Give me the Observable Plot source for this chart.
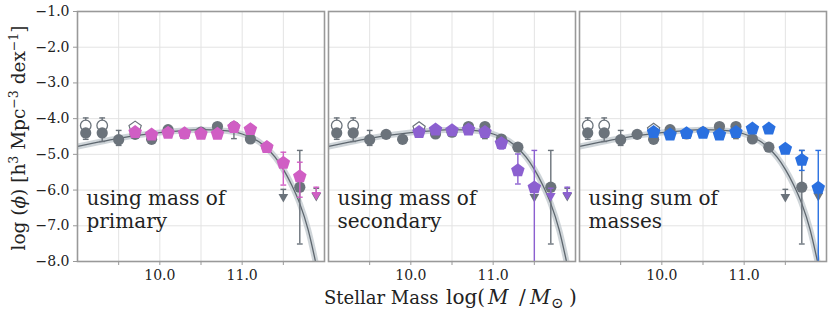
<!DOCTYPE html>
<html><head><meta charset="utf-8">
<script src="https://cdn.jsdelivr.net/npm/d3@7"></script>
<script src="https://cdn.jsdelivr.net/npm/@observablehq/plot@0.6"></script>
<style>
body{margin:0;background:#fff;}
#chart{width:830px;height:315px;}
svg text{font-family:"DejaVu Serif",serif;}
</style></head><body><div id="chart"></div>
<script>
// ---------- data ----------
const panelNames = ["using mass of\nprimary", "using mass of\nsecondary", "using sum of\nmasses"];
const massBins = [9.1, 9.3, 9.5, 9.7, 9.9, 10.1, 10.3, 10.5, 10.7, 10.9, 11.1, 11.3, 11.5, 11.7, 11.9];
const yTicks = [-8, -7, -6, -5, -4, -3, -2, -1];
const xTicks = [9.5, 10, 10.5, 11, 11.5];

// gray comparison sample (same in each panel)
const grayPhi   = [-4.40, -4.40, -4.59, -4.44, -4.58, -4.31, -4.43, -4.38, -4.22, -4.22, -4.57, -4.80, null, -5.92, null];
const grayLo    = [-4.58, -4.64, -4.75, -4.55, -4.68, -4.40, -4.50, -4.45, -4.30, -4.56, -4.65, -4.90, null, -7.51, null];
const grayHi    = [-4.25, -4.25, -4.33, -4.35, -4.50, -4.24, -4.37, -4.31, -4.15, -4.15, -4.50, -4.72, null, -4.89, null];
const grayUpper = [null, null, null, null, null, null, null, null, null, null, null, null, -5.98, null, -5.95];
// gray open circles (lowest bins)
const grayOpenPhi = [-4.19, -4.19, null, null, null, null, null, null, null, null, null, null, null, null, null];
const grayOpenHi  = [-3.98, -3.98, null, null, null, null, null, null, null, null, null, null, null, null, null];

// panel 1: mass of primary (pink)
const pinkPhi   = [null, null, null, -4.38, -4.45, -4.40, -4.41, -4.43, -4.43, -4.24, -4.30, -4.80, -5.24, -5.62, null];
const pinkLo    = [null, null, null, -4.43, -4.50, -4.45, -4.46, -4.55, -4.50, -4.30, -4.35, -4.90, -5.86, -6.20, null];
const pinkHi    = [null, null, null, -4.33, -4.40, -4.35, -4.36, -4.38, -4.38, -4.18, -4.25, -4.68, -4.94, -5.22, null];
const pinkUpper = [null, null, null, null, null, null, null, null, null, null, null, null, null, null, -5.92];

// panel 2: mass of secondary (purple)
const purplePhi   = [null, null, null, null, null, -4.38, -4.31, -4.33, -4.31, -4.38, -4.69, -5.45, -5.93, null, null];
const purpleLo    = [null, null, null, null, null, -4.43, -4.36, -4.38, -4.36, -4.44, -4.85, -5.83, -8.50, null, null];
const purpleHi    = [null, null, null, null, null, -4.33, -4.26, -4.28, -4.26, -4.32, -4.60, -4.99, -4.89, null, null];
const purpleUpper = [null, null, null, null, null, null, null, null, null, null, null, null, null, -5.95, -5.92];

// panel 3: sum of masses (blue)
const bluePhi   = [null, null, null, null, -4.38, -4.45, -4.41, -4.40, -4.45, -4.38, -4.28, -4.28, -4.85, -5.16, -5.94];
const blueLo    = [null, null, null, null, -4.43, -4.50, -4.46, -4.45, -4.50, -4.43, -4.33, -4.33, -4.95, -5.45, -8.50];
const blueHi    = [null, null, null, null, -4.33, -4.40, -4.36, -4.35, -4.40, -4.33, -4.23, -4.23, -4.75, -4.89, -4.89];
const blueUpper = [null, null, null, null, null, null, null, null, null, null, null, null, null, null, null];

// open markers of first coloured bin in each panel
const openMass = [9.7, 10.1, 9.9];
const openPhi  = [-4.25, -4.27, -4.31];

// fitted curve
const fitMass = [9.0, 9.25, 9.5, 9.75, 10.0, 10.25, 10.5, 10.75, 11.0, 11.1, 11.2, 11.3, 11.4, 11.5, 11.6, 11.7, 11.8, 11.9];
const fitPhi  = [-4.78, -4.66, -4.55, -4.46, -4.39, -4.34, -4.31, -4.33, -4.43, -4.52, -4.64, -4.83, -5.08, -5.42, -5.85, -6.38, -7.10, -8.10];

const seriesColor = ["#d05ec4", "#8c60d0", "#2a70e0"];
const grayColor = "#6b737b";

// ---------- build tables ----------
const colored = [
  {phi: pinkPhi, lo: pinkLo, hi: pinkHi, up: pinkUpper},
  {phi: purplePhi, lo: purpleLo, hi: purpleHi, up: purpleUpper},
  {phi: bluePhi, lo: blueLo, hi: blueHi, up: blueUpper}
];
const pts = [], errs = [], caps = [], uppers = [], grayPts = [], grayOpen = [], openPent = [];
panelNames.forEach((panel, p) => {
  massBins.forEach((m, i) => {
    if (grayPhi[i] != null) {
      grayPts.push({panel, mass: m, phi: grayPhi[i]});
      errs.push({panel, mass: m, lo: grayLo[i], hi: grayHi[i], color: grayColor, z: 0});
      caps.push({panel, mass: m, y: grayLo[i], color: grayColor, z: 0}, {panel, mass: m, y: grayHi[i], color: grayColor, z: 0});
    }
    if (grayOpenPhi[i] != null) {
      grayOpen.push({panel, mass: m, phi: grayOpenPhi[i]});
      errs.push({panel, mass: m, lo: grayOpenPhi[i], hi: grayOpenHi[i], color: grayColor, z: 0});
      caps.push({panel, mass: m, y: grayOpenHi[i], color: grayColor, z: 0});
    }
    if (grayUpper[i] != null) uppers.push({panel, mass: m, phi: grayUpper[i], color: grayColor, z: 0});
    const s = colored[p];
    if (s.phi[i] != null) {
      pts.push({panel, mass: m, phi: s.phi[i], color: seriesColor[p]});
      errs.push({panel, mass: m, lo: s.lo[i], hi: s.hi[i], color: seriesColor[p], z: 1});
      caps.push({panel, mass: m, y: s.lo[i], color: seriesColor[p], z: 1}, {panel, mass: m, y: s.hi[i], color: seriesColor[p], z: 1});
    }
    if (s.up[i] != null) uppers.push({panel, mass: m, phi: s.up[i], color: seriesColor[p], z: 1});
  });
  openPent.push({panel, mass: openMass[p], phi: openPhi[p]});
});
const fit = fitMass.map((m, i) => ({mass: m, phi: fitPhi[i]}));

// pentagon symbol
const pentagon = {
  draw(ctx, size) {
    const R = Math.sqrt(size / 2.378);
    for (let k = 0; k < 5; k++) {
      const a = -Math.PI / 2 + k * 2 * Math.PI / 5;
      const x = R * Math.cos(a), y = R * Math.sin(a);
      k ? ctx.lineTo(x, y) : ctx.moveTo(x, y);
    }
    ctx.closePath();
  }
};

const ulLen = 0.17, triOff = 0.21, capHalf = 0.035;
const layer = z => ({errs: errs.filter(d => d.z === z), caps: caps.filter(d => d.z === z), ups: uppers.filter(d => d.z === z)});
const L0 = layer(0), L1 = layer(1);
const errMarks = L => [
  Plot.ruleX(L.errs, {fx: "panel", x: "mass", y1: "lo", y2: "hi", stroke: "color", strokeWidth: 1.4, clip: true}),
  Plot.link(L.caps, {fx: "panel", x1: d => d.mass - capHalf, x2: d => d.mass + capHalf, y1: "y", y2: "y", stroke: "color", strokeWidth: 1.4, clip: true}),
  Plot.link(L.ups, {fx: "panel", x1: d => d.mass - capHalf, x2: d => d.mass + capHalf, y1: "phi", y2: "phi", stroke: "color", strokeWidth: 1.4}),
  Plot.ruleX(L.ups, {fx: "panel", x: "mass", y1: "phi", y2: d => d.phi - ulLen, stroke: "color", strokeWidth: 1.4}),
  Plot.dot(L.ups, {fx: "panel", x: "mass", y: d => d.phi - triOff, symbol: "triangle", rotate: 180, r: 3.6, fill: "color"})
];

const chart = Plot.plot({
  width: 830, height: 315,
  marginLeft: 76, marginRight: 4, marginTop: 11, marginBottom: 54,
  style: {fontFamily: "DejaVu Serif", fontSize: "14px", color: "#222", background: "#fff"},
  fx: {domain: panelNames, paddingInner: 0.016, paddingOuter: 0, axis: null, label: null},
  x: {domain: [9.0, 12.0]},
  y: {domain: [-8, -1]},
  color: {type: "identity"},
  marks: [
    Plot.ruleY(yTicks, {stroke: "#e3e3e3", strokeWidth: 1}),
    Plot.ruleX(xTicks, {stroke: "#e3e3e3", strokeWidth: 1}),
    Plot.axisY({ticks: yTicks, tickFormat: d => d.toFixed(1).replace("-", "\u2212"), tickSize: 4, tickPadding: 4, label: null, fontSize: 14, stroke: "#999"}),
    Plot.axisX({ticks: xTicks, tickFormat: d => Number.isInteger(d) ? d.toFixed(1) : "", tickSize: 4, tickPadding: 5, label: null, fontSize: 14, stroke: "#999"}),
    Plot.line(fit, {x: "mass", y: "phi", stroke: "#c3cad0", strokeWidth: 6, strokeOpacity: 0.8, curve: "monotone-x", clip: true}),
    Plot.line(fit, {x: "mass", y: "phi", stroke: "#5d666e", strokeWidth: 1.3, curve: "monotone-x", clip: true}),
    ...errMarks(L0),
    Plot.dot(grayOpen, {fx: "panel", x: "mass", y: "phi", r: 5.3, fill: "white", stroke: grayColor, strokeWidth: 1.3}),
    Plot.dot(grayPts, {fx: "panel", x: "mass", y: "phi", r: 5.6, fill: grayColor}),
    Plot.dot(openPent, {fx: "panel", x: "mass", y: "phi", r: 5.6, symbol: pentagon, fill: "white", stroke: grayColor, strokeWidth: 1.2}),
    ...errMarks(L1),
    Plot.dot(pts, {fx: "panel", x: "mass", y: "phi", r: 6.2, symbol: pentagon, fill: "color"}),
    Plot.text(panelNames, {fx: d => d, text: d => d, frameAnchor: "bottom-left", lineAnchor: "bottom", dx: 9, dy: -34, fontSize: 20, lineHeight: 1.12, fill: "#222", textAnchor: "start"}),
    Plot.frame({stroke: "#999", strokeWidth: 1.6})
  ]
});
document.getElementById("chart").appendChild(chart);

// axis titles with math styling
const svg = d3.select(chart);
const yl = svg.append("text").attr("transform", "translate(25,138) rotate(-90)")
  .attr("font-family", "DejaVu Serif")
  .attr("text-anchor", "middle").attr("font-size", 18.5).attr("fill", "#222");
yl.append("tspan").text("log (");
yl.append("tspan").attr("font-style", "italic").text("\u03D5");
yl.append("tspan").text(") [h");
yl.append("tspan").attr("font-size", 12.5).attr("dy", -7).text("3");
yl.append("tspan").attr("dy", 7).text(" Mpc");
yl.append("tspan").attr("font-size", 12.5).attr("dy", -7).text("\u22123");
yl.append("tspan").attr("dy", 7).text(" dex");
yl.append("tspan").attr("font-size", 12.5).attr("dy", -7).text("\u22121");
yl.append("tspan").attr("dy", 7).text("]");

const xl = svg.append("text").attr("y", 304).attr("font-family", "DejaVu Serif")
  .attr("text-anchor", "start").attr("font-size", 20).attr("fill", "#222");
xl.append("tspan").attr("x", 324).attr("font-size", 18).text("Stellar Mass");
xl.append("tspan").attr("x", 446).text("log(");
xl.append("tspan").attr("x", 488).attr("font-style", "italic").text("M");
xl.append("tspan").attr("x", 519).text("/");
xl.append("tspan").attr("x", 530).attr("font-style", "italic").text("M");
xl.append("tspan").attr("x", 551).attr("font-size", 15).attr("dy", 4).text("\u2299");
xl.append("tspan").attr("x", 569).attr("dy", -4).text(")");
</script>
</body></html>
